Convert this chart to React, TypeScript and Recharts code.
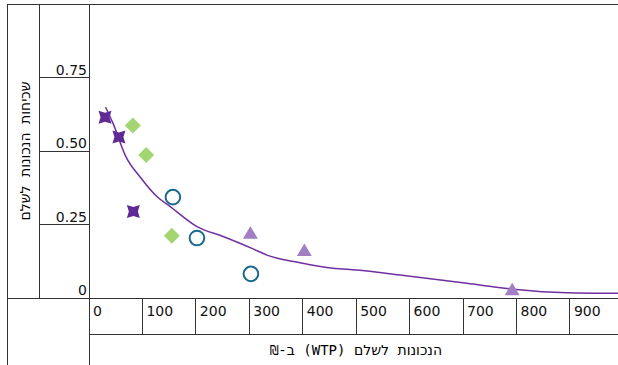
import {
  ComposedChart,
  Customized,
  Line,
  Scatter,
  XAxis,
  YAxis,
} from "recharts";

const xTicks = [0, 100, 200, 300, 400, 500, 600, 700, 800, 900];
const yTicks = [0, 0.25, 0.5, 0.75];

const starPoints = [
  { x: 30, y: 0.615 },
  { x: 56, y: 0.548 },
  { x: 83, y: 0.294 },
];
const diamondPoints = [
  { x: 82, y: 0.587 },
  { x: 107, y: 0.486 },
  { x: 155, y: 0.212 },
];
const circlePoints = [
  { x: 157, y: 0.343 },
  { x: 202, y: 0.204 },
  { x: 303, y: 0.082 },
];
const trianglePoints = [
  { x: 302, y: 0.222 },
  { x: 403, y: 0.163 },
  { x: 792, y: 0.03 },
];

// fitted curve
const curveX = [31, 45, 69, 95, 127, 152, 202, 251, 307, 333, 395, 457, 501, 582, 707, 794, 894, 990];
const curveY = [0.649, 0.594, 0.481, 0.413, 0.345, 0.311, 0.243, 0.209, 0.167, 0.146, 0.12, 0.101, 0.095, 0.078, 0.05, 0.03, 0.018, 0.016];
const curve = curveX.map((x, i) => ({ x, y: curveY[i] }));

const W = 618;
const H = 365;
const PLOT_LEFT = 89;
const PLOT_TOP = 4;
const X_AXIS_H = 67;
const LINE = "#333";
const TICK_FONT = "'DejaVu Sans', sans-serif";
const TITLE_FONT = "'DejaVu Sans Mono', 'DejaVu Sans', monospace";

const Star = ({ cx, cy }: any) => (
  <path
    d={`M${cx - 6.5},${cy - 6.5} L${cx},${cy - 4.5} L${cx + 6.5},${cy - 6.5} L${cx + 4.5},${cy} L${cx + 6.5},${cy + 6.5} L${cx},${cy + 4.5} L${cx - 6.5},${cy + 6.5} L${cx - 4.5},${cy} Z`}
    fill="#5f2a94"
  />
);

const Diamond = ({ cx, cy }: any) => (
  <path
    d={`M${cx},${cy - 8} L${cx + 8},${cy} L${cx},${cy + 8} L${cx - 8},${cy} Z`}
    fill="#a3d673"
  />
);

const Ring = ({ cx, cy }: any) => (
  <circle cx={cx} cy={cy} r={7.3} fill="none" stroke="#1b6a8c" strokeWidth={2} />
);

const Triangle = ({ cx, cy }: any) => (
  <path
    d={`M${cx},${cy - 6.5} L${cx + 7.5},${cy + 6} L${cx - 7.5},${cy + 6} Z`}
    fill="#a17fc4"
  />
);

const YTick = ({ x, y, payload }: any) => (
  <g>
    {payload.value !== 0 && (
      <line x1={x - 50} y1={y} x2={x} y2={y} stroke={LINE} shapeRendering="crispEdges" />
    )}
    <text x={x - 2} y={y - 3} textAnchor="end" fontSize={14} fontFamily={TICK_FONT} fill="#111">
      {payload.value === 0 ? "0" : payload.value.toFixed(2)}
    </text>
  </g>
);

const XTick = ({ x, y, payload }: any) => (
  <g>
    {payload.value !== 0 && (
      <line x1={x} y1={y} x2={x} y2={y + 36} stroke={LINE} shapeRendering="crispEdges" />
    )}
    <text x={x + 4} y={y + 18} fontSize={14} fontFamily={TICK_FONT} fill="#111">
      {payload.value}
    </text>
  </g>
);

const Frame = () => {
  const bottom = H - X_AXIS_H;
  const midY = (PLOT_TOP + bottom) / 2;
  return (
    <g stroke={LINE} shapeRendering="crispEdges">
      <line x1={7.5} y1={PLOT_TOP} x2={W} y2={PLOT_TOP} />
      <line x1={7.5} y1={PLOT_TOP} x2={7.5} y2={H} />
      <line x1={39} y1={PLOT_TOP} x2={39} y2={bottom} />
      <line x1={PLOT_LEFT} y1={PLOT_TOP} x2={PLOT_LEFT} y2={H} />
      <line x1={7.5} y1={bottom} x2={W} y2={bottom} />
      <line x1={PLOT_LEFT} y1={bottom + 36} x2={W} y2={bottom + 36} />
      <text
        x={356}
        y={355}
        textAnchor="middle"
        direction="rtl"
        fontSize={14}
        fontFamily={TITLE_FONT}
        fill="#000"
        stroke="none"
      >
        הנכונות לשלם (WTP) ב-₪
      </text>
      <text
        x={30}
        y={midY}
        transform={`rotate(-90, 30, ${midY})`}
        textAnchor="middle"
        direction="rtl"
        fontSize={14}
        fontFamily={TITLE_FONT}
        fill="#000"
        stroke="none"
      >
        שכיחות הנכונות לשלם
      </text>
    </g>
  );
};

export default function App() {
  return (
    <div style={{ position: "absolute", left: 0, top: 0, width: W, height: H, background: "#fff" }}>
      <ComposedChart width={W} height={H} margin={{ top: PLOT_TOP, right: 0, bottom: 0, left: 0 }}>
        <XAxis
          type="number"
          dataKey="x"
          domain={[0, 990]}
          ticks={xTicks}
          allowDataOverflow
          height={X_AXIS_H}
          axisLine={false}
          tickLine={false}
          tickSize={0}
          tickMargin={0}
          tick={<XTick />}
          interval={0}
        />
        <YAxis
          type="number"
          dataKey="y"
          domain={[0, 1]}
          ticks={yTicks}
          width={PLOT_LEFT}
          axisLine={false}
          tickLine={false}
          tickSize={0}
          tickMargin={0}
          tick={<YTick />}
          interval={0}
        />
        <Customized component={Frame} />
        <Line
          data={curve}
          dataKey="y"
          type="monotone"
          stroke="#7030a0"
          strokeWidth={1.5}
          dot={false}
          isAnimationActive={false}
        />
        <Scatter data={starPoints} dataKey="y" shape={<Star />} isAnimationActive={false} />
        <Scatter data={diamondPoints} dataKey="y" shape={<Diamond />} isAnimationActive={false} />
        <Scatter data={circlePoints} dataKey="y" shape={<Ring />} isAnimationActive={false} />
        <Scatter data={trianglePoints} dataKey="y" shape={<Triangle />} isAnimationActive={false} />
      </ComposedChart>
    </div>
  );
}
